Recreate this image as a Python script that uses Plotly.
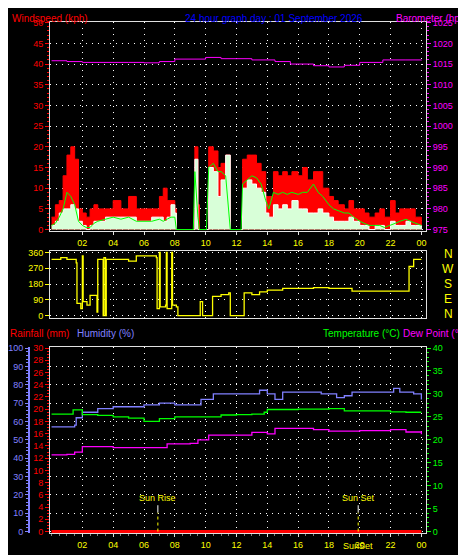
import plotly.graph_objects as go

# ---------------- data ----------------
hour_ticks = [2, 4, 6, 8, 10, 12, 14, 16, 18, 20, 22, 24]
hour_labels = ["02", "04", "06", "08", "10", "12", "14", "16", "18", "20", "22", "00"]

wind_hours = [0, 0.25, 0.5, 0.75, 1, 1.25, 1.5, 1.75, 2, 2.25, 2.5, 2.75, 3, 3.5, 4, 4.5, 5, 5.5, 6, 6.5,
              7, 7.25, 7.5, 7.75, 8, 8.1, 9.2, 9.3, 9.5, 9.6, 10.05, 10.2, 10.5, 10.8, 11, 11.3, 11.6, 12.3,
              12.4, 12.7, 13, 13.3, 13.6, 13.9, 14.1, 14.4, 14.7, 15, 15.3, 15.6, 16, 16.3, 16.6, 17, 17.3,
              17.6, 18, 18.3, 18.6, 19, 19.3, 19.6, 20, 20.3, 20.6, 21, 21.3, 21.6, 22, 22.3, 22.6, 23, 23.3,
              23.6, 24]
wind_gust = [3, 6, 7, 13, 18, 20, 17, 5, 4, 3, 5, 6, 5, 5, 7, 5, 8, 5, 5, 5,
             8, 10, 7, 7, 5, 0, 0, 20, 6, 0, 0, 20, 19, 15, 16, 18, 0, 0,
             17, 18, 18, 16, 14, 8, 8, 14, 13, 14, 13, 14, 13, 15, 12, 14, 14,
             10, 8, 7, 6, 5, 7, 5, 5, 4, 3, 4, 5, 3, 7, 4, 5, 5, 5,
             3, 1]
wind_avg = [1, 2, 4, 5, 5, 6, 5, 2, 1, 0, 1, 2, 2, 3, 3, 3, 3, 2, 2, 3,
            3, 2, 3, 6, 4, 0, 0, 17, 0, 0, 0, 15, 14, 8, 12, 18, 0, 0,
            10, 12, 11, 10, 9, 4, 3, 6, 5, 6, 5, 7, 5, 5, 4, 4, 5,
            4, 3, 2, 2, 2, 3, 2, 1, 1, 0, 1, 1, 0, 2, 1, 1, 2, 1,
            1, 0]
wind_trend = [1, 1.5, 3, 5, 9, 8, 6, 2, 1, 0.5, 0.5, 1.5, 2, 2.5, 3, 2.5, 3, 2, 2, 2,
              2.5, 2, 2.5, 3, 3, 0, 0, 14, 3, 0, 0, 15, 16, 14, 14, 13, 0, 0,
              11, 12, 13, 12.5, 11, 7, 5, 9, 8.5, 9, 8.5, 9, 8.5, 9, 9, 11, 9,
              8, 6, 5, 4.5, 4, 4, 3, 2, 1.5, 1, 1, 1, 0.5, 1, 1.5, 2, 2.5, 2,
              1.5, 1]

baro_hours = [0, 1, 2, 5, 6, 7, 8, 10, 11, 13, 14.5, 15.5, 17, 18, 19, 20, 21.5, 23, 24]
baro_hpa = [1015.8, 1015.6, 1015.4, 1015.4, 1015.3, 1015.6, 1016.2, 1016.6, 1016.3, 1016.0, 1015.6,
            1015.0, 1014.6, 1014.3, 1014.7, 1015.4, 1016.0, 1016.0, 1015.9]

dir_hours = [0, 0.6, 1.0, 1.6, 1.65, 1.9, 2.0, 2.05, 2.3, 2.5, 2.9, 2.95, 3.0, 3.3, 3.35, 3.4, 3.5, 3.55,
             4, 5, 5.5, 6.5, 6.8, 6.85, 7.0, 7.05, 7.4, 7.45, 7.5, 7.8, 7.85, 8.1, 8.2, 9.6, 9.65, 9.8,
             10.4, 10.45, 11.0, 11.5, 11.6, 12.4, 12.5, 13, 13.5, 14, 15, 16, 17, 18, 19, 19.5, 23.1,
             23.2, 23.5, 24]
dir_deg = [320, 330, 320, 300, 70, 40, 340, 80, 60, 115, 115, 20, 320, 320, 0, 330, 0, 320,
           320, 310, 340, 340, 330, 40, 360, 50, 60, 360, 40, 360, 60, 50, 0, 0, 80, 0,
           0, 110, 120, 130, 0, 0, 130, 120, 135, 145, 155, 155, 160, 155, 155, 140, 140,
           280, 320, 320]

hum_hours = [0, 1.5, 1.6, 2, 3, 4, 5, 6, 7, 8, 9.5, 9.7, 10.5, 12, 13.5, 14, 14.5, 15, 16.5, 17.5,
             18.5, 19, 19.5, 21, 22, 22.2, 22.6, 23.5, 24]
hum_pct = [57, 58, 62, 65, 67, 68, 68, 69, 70, 69, 69, 72, 75, 75, 77, 75, 72, 76, 76, 75,
           73, 74, 76, 76, 76, 78, 76, 75, 72]

temp_hours = [0, 1, 1.4, 2, 3, 4, 5, 6, 7, 8, 10, 11, 12, 13, 13.8, 14, 16, 18, 19, 21, 22, 23, 24]
temp_c = [25.6, 25.6, 26.5, 25.5, 25.3, 25.0, 24.7, 24.0, 24.6, 25.0, 25.0, 25.4, 25.5, 25.6, 26.0,
          26.6, 26.7, 26.8, 26.3, 26.3, 26.1, 26.0, 26.0]

dew_hours = [0, 1, 1.5, 2, 4, 7, 7.5, 9, 9.5, 10.2, 12, 13, 14, 14.5, 16, 17, 18, 20, 22, 23, 24]
dew_c = [16.7, 16.8, 17.3, 18.5, 18.3, 18.3, 19.1, 19.2, 20.0, 21.0, 21.0, 21.6, 21.3, 22.5, 22.5,
         22.2, 21.9, 22.0, 22.2, 21.7, 21.2]

rain_hours = [0, 24]
rain_mm = [0, 0]

sun_rise = 6.9
sun_set = 19.9

# ---------------- figure ----------------
W, H = 466, 555
fig = go.Figure()
FONT = "Liberation Sans"

def py(p):
    return 1 - p / H

fig.add_trace(go.Scatter(x=wind_hours, y=wind_gust, mode="lines", line=dict(color="#ff0000", width=1, shape="hv"),
                         fill="tozeroy", fillcolor="#ff0000", xaxis="x", yaxis="y"))
fig.add_trace(go.Scatter(x=wind_hours, y=wind_avg, mode="lines", line=dict(color="#ffffff", width=1, shape="hv"),
                         fill="tozeroy", fillcolor="#d8ffd8", xaxis="x", yaxis="y"))
fig.add_trace(go.Scatter(x=wind_hours, y=wind_trend, mode="lines", line=dict(color="#00ff00", width=1),
                         xaxis="x", yaxis="y"))
fig.add_trace(go.Scatter(x=baro_hours, y=baro_hpa, mode="lines", line=dict(color="#ff00ff", width=1, shape="hv"),
                         xaxis="x", yaxis="y2"))
fig.add_trace(go.Scatter(x=dir_hours, y=dir_deg, mode="lines", line=dict(color="#ffff00", width=1.3, shape="hv"),
                         xaxis="x2", yaxis="y3"))
fig.add_trace(go.Scatter(x=rain_hours, y=rain_mm, mode="lines", line=dict(color="#ff0000", width=3),
                         xaxis="x3", yaxis="y4"))
fig.add_trace(go.Scatter(x=hum_hours, y=hum_pct, mode="lines", line=dict(color="#8080ff", width=1.3, shape="hv"),
                         xaxis="x3", yaxis="y5"))
fig.add_trace(go.Scatter(x=temp_hours, y=temp_c, mode="lines", line=dict(color="#00ff00", width=1.3, shape="hv"),
                         xaxis="x3", yaxis="y6"))
fig.add_trace(go.Scatter(x=dew_hours, y=dew_c, mode="lines", line=dict(color="#ff00ff", width=1.3, shape="hv"),
                         xaxis="x3", yaxis="y6"))

xdom = [42 / W, 418 / W]
xr = [-0.1, 24.3]
grid = dict(showgrid=True, gridcolor="#ffffff", griddash="1px,5px", gridwidth=1, zeroline=False)
tickf = dict(family=FONT, size=9)

fig.update_layout(
    width=W, height=H, margin=dict(l=0, r=0, t=0, b=0), autosize=False,
    paper_bgcolor="black", plot_bgcolor="black", showlegend=False,
    xaxis=dict(domain=xdom, range=xr, anchor="y", tickvals=hour_ticks, ticktext=hour_labels,
               tickfont=dict(color="#ffff00", **tickf), showline=True, linecolor="#e0e0e0", mirror=True,
               ticks="outside", tickcolor="#e0e0e0", ticklen=3, **grid),
    yaxis=dict(domain=[py(222), py(10)], range=[-0.3, 50.2], dtick=5, tickfont=dict(color="#ff0000", **tickf),
               showline=True, linecolor="#e0e0e0", mirror=True, ticks="outside", tickcolor="#ff0000", ticklen=4,
               minor=dict(dtick=1, ticks="outside", ticklen=2, tickcolor="#ff0000"), anchor="x", **grid),
    yaxis2=dict(overlaying="y", side="right", anchor="x", range=[974.7, 1025.2], dtick=5,
                tickfont=dict(color="#ff00ff", **tickf), ticks="outside", tickcolor="#ff00ff", ticklen=4,
                minor=dict(dtick=1, ticks="outside", ticklen=2, tickcolor="#ff00ff"), showgrid=False, zeroline=False),
    xaxis2=dict(domain=xdom, range=xr, anchor="y3", tickvals=hour_ticks, showticklabels=False,
                showline=True, linecolor="#e0e0e0", mirror=True, **grid),
    yaxis3=dict(domain=[py(310), py(242)], range=[-11, 371], tickvals=[0, 90, 180, 270, 360],
                tickfont=dict(color="#ffff00", **tickf), showline=True, linecolor="#e0e0e0", mirror=True,
                ticks="outside", tickcolor="#ffff00", ticklen=4, anchor="x2", **grid),
    xaxis3=dict(domain=xdom, range=xr, anchor="y4", tickvals=hour_ticks, ticktext=hour_labels,
                tickfont=dict(color="#ffff00", **tickf), showline=True, linecolor="#e0e0e0", mirror=True,
                ticks="outside", tickcolor="#e0e0e0", ticklen=3,
                minor=dict(dtick=0.5, ticks="outside", ticklen=2, tickcolor="#808080"), **grid),
    yaxis4=dict(domain=[py(529), py(340)], range=[-0.3, 30.15], dtick=2, tickfont=dict(color="#ff0000", **tickf),
                showline=True, linecolor="#e0e0e0", mirror=True, ticks="outside", tickcolor="#ff0000", ticklen=4,
                minor=dict(dtick=0.5, ticks="outside", ticklen=2, tickcolor="#ff0000"), anchor="x3",
                showgrid=False, zeroline=False),
    yaxis5=dict(overlaying="y4", side="left", anchor="free", position=21 / W, range=[-1, 100.5], dtick=10,
                tickfont=dict(color="#8080ff", **tickf), showline=True, linecolor="#8080ff", linewidth=2,
                ticks="outside", tickcolor="#8080ff", ticklen=3,
                minor=dict(dtick=2, ticks="outside", ticklen=2, tickcolor="#8080ff"),
                showgrid=True, gridcolor="#ffffff", griddash="1px,5px", zeroline=False),
    yaxis6=dict(overlaying="y4", side="right", anchor="x3", range=[-0.4, 40.2], dtick=5,
                tickfont=dict(color="#00ff00", **tickf), ticks="outside", tickcolor="#00ff00", ticklen=4,
                minor=dict(dtick=1, ticks="outside", ticklen=2, tickcolor="#00ff00"), showgrid=False, zeroline=False),
)

tf = dict(family=FONT, size=10)
ann = [
    dict(text="Windspeed (kph)", x=2 / W, y=py(-1), xanchor="left", yanchor="top", font=dict(color="#ff0000", **tf)),
    dict(text="24 hour graph day : 01 September 2026", x=266 / W, y=py(-1), xanchor="center", yanchor="top",
         font=dict(color="#0000ff", **tf)),
    dict(text="Barometer (hpa)", x=463 / W, y=py(-1), xanchor="right", yanchor="top", font=dict(color="#ff00ff", **tf)),
    dict(text="Rainfall (mm)", x=0, y=py(319), xanchor="left", yanchor="top", font=dict(color="#ff0000", **tf)),
    dict(text="Humidity (%)", x=67 / W, y=py(319), xanchor="left", yanchor="top", font=dict(color="#8080ff", **tf)),
    dict(text="Temperature (°C)", x=313 / W, y=py(319), xanchor="left", yanchor="top", font=dict(color="#00ff00", **tf)),
    dict(text="Dew Point (°C)", x=463 / W, y=py(319), xanchor="right", yanchor="top", font=dict(color="#ff00ff", **tf)),
]
for lab, deg in zip(["N", "W", "S", "E", "N"], [360, 270, 180, 90, 0]):
    ann.append(dict(text=lab, xref="paper", yref="y3", x=440 / W, y=deg * 0.95 + 9, xanchor="center",
                    yanchor="middle", font=dict(color="#ffff00", family=FONT, size=12)))
for lab, t in [("Sun Rise", sun_rise), ("Sun Set", sun_set)]:
    ann.append(dict(text=lab, xref="x3", yref="y4", x=t, y=4.4, yanchor="bottom", xanchor="center",
                    font=dict(color="#ffff00", family=FONT, size=9)))
ann.append(dict(text="SunSet", xref="x3", yref="paper", x=sun_set, y=py(535), yanchor="top", xanchor="center",
                font=dict(color="#ffff00", family=FONT, size=9)))
for a in ann:
    a.setdefault("xref", "paper")
    a.setdefault("yref", "paper")
    a["showarrow"] = False
fig.update_layout(annotations=ann)

shapes = []
for t in [sun_rise, sun_set]:
    shapes.append(dict(type="line", xref="x3", yref="y4", x0=t, x1=t, y0=0, y1=3.1,
                       line=dict(color="#ffff00", width=1, dash="dot")))
    shapes.append(dict(type="line", xref="x3", yref="y4", x0=t, x1=t, y0=3.1, y1=4.3,
                       line=dict(color="#ffffff", width=1)))
fig.update_layout(shapes=shapes)

fig.write_html("out.html")
